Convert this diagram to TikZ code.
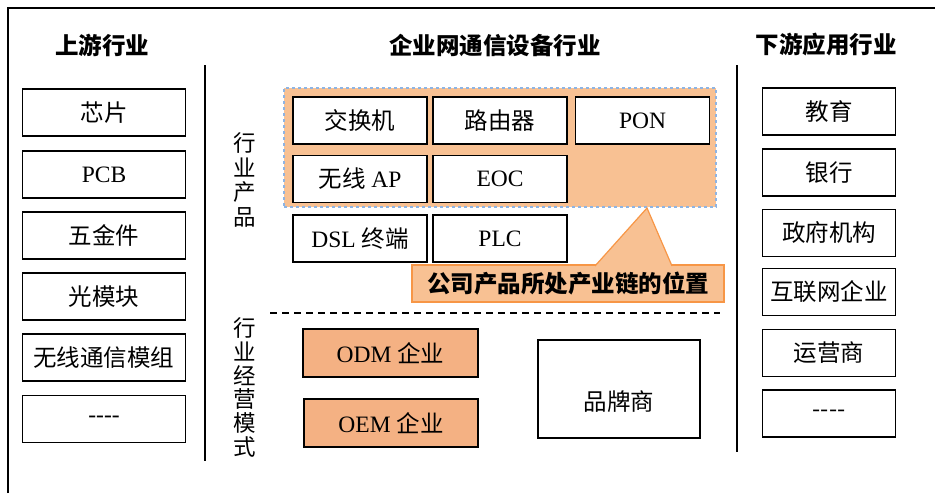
\documentclass[tikz,border=0pt]{standalone}
\usepackage{fontspec}
\setmainfont{Liberation Serif}
\newfontfamily\cn{Noto Sans CJK SC}
\definecolor{areaorange}{HTML}{F8C193}
\definecolor{firmorange}{HTML}{F4B183}
\definecolor{calloutline}{HTML}{F79646}
\definecolor{areablue}{HTML}{8EB4E3}
\begin{document}
\begin{tikzpicture}[x=1pt,y=-1pt,
	cell/.style={draw,line width=1.3pt,inner sep=0pt,minimum height=47pt,font=\fontsize{23.5}{23.5}\selectfont},
	head/.style={font=\fontsize{23.5}{23.5}\selectfont\cn\bfseries},
	sidetext/.style={align=center,inner sep=0pt,font=\fontsize{22.5}{24.5}\selectfont\cn}]
	\useasboundingbox (0,0) rectangle (935,493);
	\draw[line width=1.5pt] (8,493) -- (8,8) -- (935,8);
	\node [head] (h1) at (102,45) {上游行业};
	\node [head] (h2) at (495,45) {企业网通信设备行业};
	\node [head] (h3) at (826,45) {下游应用行业};
	\coordinate (l1) at (205,65); \coordinate (l2) at (205,461);
	\coordinate (r1) at (737,65); \coordinate (r2) at (737,452);
	\draw[line width=1.2pt] (l1) -- (l2);
	\draw[line width=1.2pt] (r1) -- (r2);
	% upstream
	\foreach \y/\t [count=\i] in {112.5/{\cn 芯片},174.5/PCB,235.5/{\cn 五金件},296.5/{\cn 光模块},357.5/{\cn 无线通信模组},419/{{-}{-}{-}{-}}}
		\node [cell,minimum width=163pt] (u\i) at (104,\y) {\t};
	% downstream
	\foreach \y/\t [count=\i] in {111.5/教育,172.5/银行,233/政府机构,292/互联网企业,353/运营商,413.5/----}
		\node [cell,minimum width=133pt] (d\i) at (829,\y) {\cn\t};
	% products
	\node [fill=areaorange,draw=areablue,dashed,line width=1.2pt,minimum width=432pt,minimum height=119pt] (area) at (500,147.5) {};
	\node [cell,fill=white,minimum width=134pt] (p1) at (360,120.5) {\cn 交换机};
	\node [cell,fill=white,minimum width=134pt] (p2) at (500,120.5) {\cn 路由器};
	\node [cell,fill=white,minimum width=134pt] (p3) at (642.5,120.5) {PON};
	\node [cell,fill=white,minimum width=134pt] (p4) at (360,179) {{\cn 无线} AP};
	\node [cell,fill=white,minimum width=134pt] (p5) at (500,179) {EOC};
	\node [cell,fill=white,minimum width=134pt] (p6) at (360,238.5) {DSL {\cn 终端}};
	\node [cell,fill=white,minimum width=134pt] (p7) at (500,238.5) {PLC};
	\coordinate (tip) at (647,208);
	\coordinate (b1) at (595,266); \coordinate (b2) at (672,266);
	\node [fill=areaorange,draw=calloutline,line width=1.2pt,minimum width=312pt,minimum height=37pt,inner sep=0pt,font=\fontsize{23.5}{23.5}\selectfont\cn\bfseries] (call) at (568,283.5) {公司产品所处产业链的位置};
	\fill[areaorange] (b1) -- (tip) -- (b2) -- cycle;
	\draw[calloutline,line width=1.2pt] (b1) -- (tip) -- (b2);
	\node [sidetext] (s1) at (245,180) {行\\业\\产\\品};
	\coordinate (m1) at (270,313); \coordinate (m2) at (720,313);
	\draw[dashed,line width=1.2pt,dash pattern=on 7pt off 5pt] (m1) -- (m2);
	% business models
	\node [sidetext,font=\fontsize{22.5}{23.8}\selectfont\cn] (s2) at (245,387.5) {行\\业\\经\\营\\模\\式};
	\node [cell,fill=firmorange,minimum width=175pt,minimum height=48pt] (f1) at (390.5,353) {ODM {\cn 企业}};
	\node [cell,fill=firmorange,minimum width=174pt,minimum height=48pt] (f2) at (391,423) {OEM {\cn 企业}};
	\node [cell,minimum width=162pt,minimum height=98pt,text height=43pt,text depth=0pt] (f3) at (619,389) {\cn 品牌商};
\end{tikzpicture}
\end{document}
